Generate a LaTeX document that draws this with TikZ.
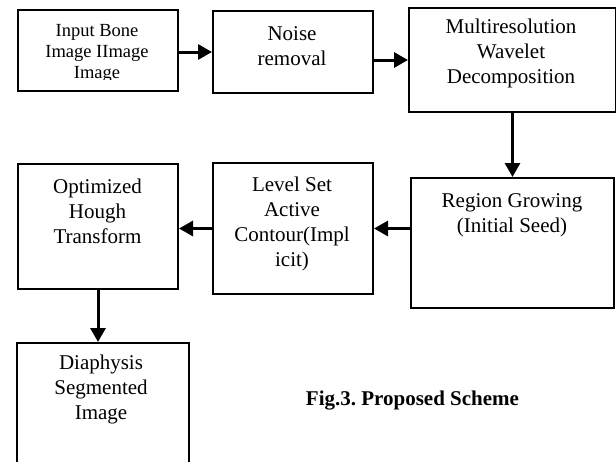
\documentclass[tikz,border=0pt]{standalone}
\usepackage{fontspec}
\setmainfont{Liberation Serif}
\usetikzlibrary{arrows.meta}
\frenchspacing

\begin{document}
\begin{tikzpicture}[x=1pt,y=-1pt,
  stagebox/.style={draw,line width=2pt,rectangle,inner sep=0pt,anchor=north west},
  flow/.style={line width=3pt,-{Triangle[length=14pt,width=15pt]}},
  boxtext/.style={anchor=north,inner sep=0pt,align=center,font=\fontsize{21}{25}\selectfont},
  smalltext/.style={anchor=north,inner sep=0pt,align=center,font=\fontsize{18.5}{21}\selectfont}]

  % page frame
  \clip (0,0) rectangle (616,461);

  % process boxes
  \node[stagebox,minimum width=160pt,minimum height=81pt] (input) at (17,9) {};
  \node[stagebox,minimum width=160pt,minimum height=82pt] (noise) at (212,10) {};
  \node[stagebox,minimum width=207pt,minimum height=104pt] (wavelet) at (408,7) {};
  \node[stagebox,minimum width=203pt,minimum height=130pt] (region) at (410,177) {};
  \node[stagebox,minimum width=160pt,minimum height=131pt] (levelset) at (212,162) {};
  \node[stagebox,minimum width=160pt,minimum height=125pt] (hough) at (17,163) {};
  \node[stagebox,minimum width=172pt,minimum height=140pt] (diaphysis) at (16,342) {};

  % box captions, set from the top of each box
  \begin{scope}
    \clip (17,9) rectangle (177,79.5);
    \node[smalltext] (inputtext) at (97,21.8) {\strut Input Bone\\Image IImage\\Image};
  \end{scope}
  \node[boxtext] (noisetext) at (292,22.5) {\strut Noise\\removal};
  \node[boxtext] (wavelettext) at (511,15.5) {\strut Multiresolution\\Wavelet\\Decomposition};
  \node[boxtext] (regiontext) at (512,189.5) {\strut Region Growing\\(Initial Seed)};
  \node[boxtext] (levelsettext) at (292,174) {\strut Level Set\\Active\\Contour(Impl\\icit)};
  \node[boxtext] (houghtext) at (97.5,176) {\strut Optimized\\Hough\\Transform};
  \node[boxtext] (diaphysistext) at (101,351.5) {\strut Diaphysis\\Segmented\\Image};

  % figure caption
  \node[anchor=base,inner sep=0pt,font=\fontsize{21}{25}\selectfont\bfseries] (caption) at (412.5,405) {Fig.3. Proposed Scheme};

  % connectors
  \draw[flow] (input.east |- noise) -- (noise.west);
  \draw[flow] (noise.east |- wavelet) -- (wavelet.west);
  \draw[flow] (wavelet.south) -- (region.north);
  \draw[flow] (region.west |- levelset) -- (levelset.east);
  \draw[flow] (levelset.west) -- (hough.east |- levelset);
  \draw[flow] (hough.south) -- (hough.south |- diaphysis.north);
\end{tikzpicture}
\end{document}
